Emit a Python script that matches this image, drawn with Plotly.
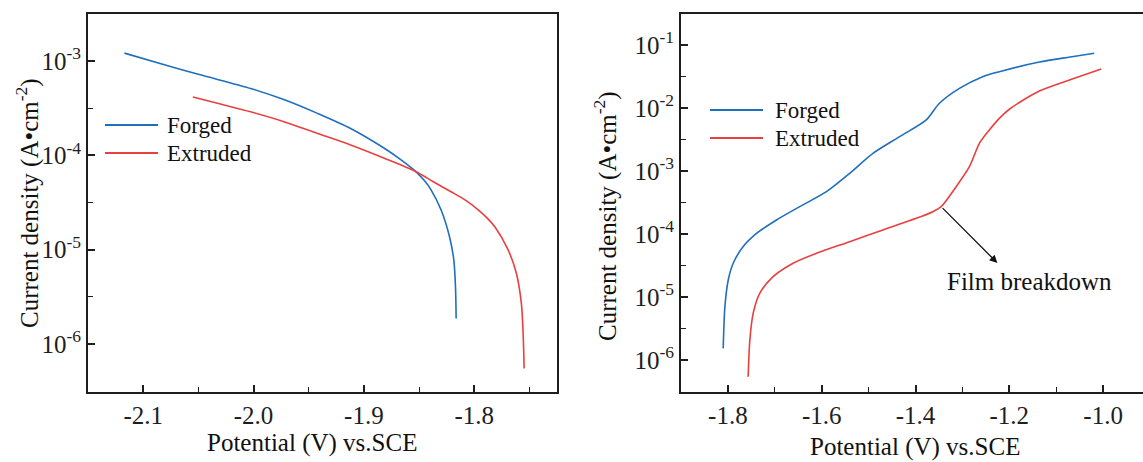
import math
import plotly.graph_objects as go

# ---------------- data ----------------
# Left panel: cathodic polarisation
left_forged_E = [-2.117, -2.08, -2.05, -2.0027, -1.972, -1.942, -1.912, -1.8815, -1.866,
                 -1.8527, -1.845, -1.839, -1.830, -1.8224, -1.8185, -1.817, -1.8164]
left_forged_i = [1.216e-3, 9.12e-4, 7.24e-4, 5.13e-4, 3.89e-4, 2.79e-4, 1.93e-4, 1.19e-4, 8.91e-5,
                 6.70e-5, 5.37e-5, 4.29e-5, 2.63e-5, 1.37e-5, 7.76e-6, 4.07e-6, 1.86e-6]

left_extruded_E = [-2.055, -2.03, -2.0027, -1.9725, -1.942, -1.912, -1.8815, -1.8527, -1.837,
                   -1.821, -1.808, -1.7967, -1.788, -1.7815, -1.7694, -1.7618, -1.7573, -1.7557,
                   -1.7548]
left_extruded_i = [4.17e-4, 3.51e-4, 2.90e-4, 2.28e-4, 1.71e-4, 1.29e-4, 9.33e-5, 6.70e-5, 5.25e-5,
                   4.11e-5, 3.35e-5, 2.66e-5, 2.15e-5, 1.76e-5, 1.00e-5, 5.62e-6, 2.69e-6, 1.30e-6,
                   5.50e-7]

# Right panel: anodic polarisation
right_forged_E = [-1.810, -1.8064, -1.7993, -1.7887, -1.7674, -1.739, -1.6964, -1.6468, -1.59,
                  -1.5404, -1.4908, -1.434, -1.3772, -1.349, -1.3064, -1.2568, -1.2213, -1.136,
                  -1.07, -1.019]
right_forged_i = [1.53e-6, 7.01e-6, 1.86e-5, 3.43e-5, 6.31e-5, 1.02e-4, 1.67e-4, 2.72e-4, 4.70e-4,
                  9.18e-4, 1.91e-3, 3.51e-3, 6.46e-3, 1.19e-2, 2.05e-2, 3.14e-2, 3.77e-2, 5.37e-2,
                  6.46e-2, 7.41e-2]

right_extruded_E = [-1.7568, -1.7532, -1.7461, -1.7319, -1.7036, -1.661, -1.6113, -1.5404, -1.4696,
                    -1.3985, -1.3632, -1.3454, -1.3134, -1.2851, -1.2638, -1.2426, -1.2213, -1.2,
                    -1.136, -1.066, -1.004]
right_extruded_i = [5.43e-7, 2.07e-6, 5.51e-6, 1.15e-5, 2.10e-5, 3.43e-5, 4.93e-5, 7.55e-5, 1.16e-4,
                    1.77e-4, 2.26e-4, 2.72e-4, 5.64e-4, 1.17e-3, 2.75e-3, 4.48e-3, 6.85e-3, 9.55e-3,
                    1.86e-2, 2.88e-2, 4.17e-2]
breakdown_index = 11          # point of film breakdown on the extruded anodic curve
breakdown_label = "Film breakdown"
breakdown_arrow_head = (-1.2255, 3.47e-5)

series_names = ["Forged", "Extruded"]
left_xticks = [-2.1, -2.0, -1.9, -1.8]
left_xminor = [-2.05, -1.95, -1.85, -1.75]
left_yticks = [1e-6, 1e-5, 1e-4, 1e-3]
right_xticks = [-1.8, -1.6, -1.4, -1.2, -1.0]
right_xminor = [-1.7, -1.5, -1.3, -1.1]
right_yticks = [1e-6, 1e-5, 1e-4, 1e-3, 1e-2, 1e-1]
x_title = "Potential (V) vs.SCE"
y_title = "Current density (A•cm<sup>-2</sup>)"

# ---------------- styling ----------------
W, H = 1143, 462
BLUE = "#1f6fbf"
RED = "#e8403f"
AX = "#1e1e1e"
FONT = "Liberation Serif, Times New Roman, serif"
FS_TICK = 25
FS_TITLE = 25
FS_LEG = 23


def px(x):
    return x / W


def py(y):
    return 1 - y / H


def sup_label(v):
    return "10<sup>%d</sup>" % round(math.log10(v))


fig = go.Figure()
spl = dict(shape="spline", smoothing=0.8, width=1.6)
fig.add_trace(go.Scatter(x=left_forged_E, y=left_forged_i, mode="lines", name=series_names[0],
                         line=dict(color=BLUE, **spl), xaxis="x", yaxis="y", showlegend=False))
fig.add_trace(go.Scatter(x=left_extruded_E, y=left_extruded_i, mode="lines", name=series_names[1],
                         line=dict(color=RED, **spl), xaxis="x", yaxis="y", showlegend=False))
fig.add_trace(go.Scatter(x=right_forged_E, y=right_forged_i, mode="lines", name=series_names[0],
                         line=dict(color=BLUE, **spl), xaxis="x2", yaxis="y2", showlegend=False))
fig.add_trace(go.Scatter(x=right_extruded_E, y=right_extruded_i, mode="lines", name=series_names[1],
                         line=dict(color=RED, **spl), xaxis="x2", yaxis="y2", showlegend=False))

tickfont = dict(family=FONT, size=FS_TICK, color=AX)
common = dict(showline=True, linecolor=AX, linewidth=1.8, ticks="inside", ticklen=7, tickwidth=1.6,
              tickcolor=AX, showgrid=False, zeroline=False, tickfont=tickfont)
minor = dict(ticks="inside", ticklen=5, tickwidth=1.4, tickcolor=AX, showgrid=False)

ydom = [py(392), py(14)]
fig.update_layout(
    width=W, height=H, margin=dict(l=0, r=0, t=0, b=0),
    paper_bgcolor="white", plot_bgcolor="white", showlegend=False,
    font=dict(family=FONT, color=AX),
    xaxis=dict(domain=[px(88), px(557)], range=[-2.15, -1.725], anchor="y", mirror=True,
               tickmode="array", tickvals=left_xticks, ticktext=["%.1f" % v for v in left_xticks],
               minor=dict(tickmode="array", tickvals=left_xminor, **minor), **common),
    yaxis=dict(domain=ydom, type="log", range=[-6.51, -2.50], anchor="x", mirror=True,
               tickmode="array", tickvals=left_yticks, ticktext=[sup_label(v) for v in left_yticks],
               minor=dict(tickmode="array", tickvals=[10 ** -5.5, 10 ** -4.5, 10 ** -3.5], **minor),
               **common),
    xaxis2=dict(domain=[px(681), 1.0], range=[-1.9, -0.915], anchor="y2", mirror=True,
                tickmode="array", tickvals=right_xticks, ticktext=["%.1f" % v for v in right_xticks],
                minor=dict(tickmode="array", tickvals=right_xminor, **minor), **common),
    yaxis2=dict(domain=ydom, type="log", range=[-6.508, -0.508], anchor="x2", mirror=False,
                tickmode="array", tickvals=right_yticks, ticktext=[sup_label(v) for v in right_yticks],
                minor=dict(tickmode="array",
                           tickvals=[10 ** -5.5, 10 ** -4.5, 10 ** -3.5, 10 ** -2.5, 10 ** -1.5], **minor),
                **common),
)

title_font = dict(family=FONT, size=FS_TITLE, color="#111")
leg_font = dict(family=FONT, size=FS_LEG, color="#111")
annotations = [
    dict(text=x_title, x=px(312), y=py(443), xref="paper", yref="paper", showarrow=False,
         font=title_font, xanchor="center", yanchor="middle"),
    dict(text=x_title, x=px(915), y=py(447), xref="paper", yref="paper", showarrow=False,
         font=title_font, xanchor="center", yanchor="middle"),
    dict(text=y_title, x=px(27), y=py(203), xref="paper", yref="paper", showarrow=False,
         font=title_font, textangle=-90, xanchor="center", yanchor="middle"),
    dict(text=y_title, x=px(606), y=py(216), xref="paper", yref="paper", showarrow=False,
         font=title_font, textangle=-90, xanchor="center", yanchor="middle"),
    # film breakdown arrow
    dict(x=breakdown_arrow_head[0], y=math.log10(breakdown_arrow_head[1]), xref="x2", yref="y2",
         ax=right_extruded_E[breakdown_index], ay=math.log10(right_extruded_i[breakdown_index]),
         axref="x2", ayref="y2", text="", showarrow=True, arrowhead=2, arrowsize=1.2,
         arrowwidth=1.3, arrowcolor="#111"),
    dict(text=breakdown_label, x=px(1029), y=py(281), xref="paper", yref="paper", showarrow=False,
         font=title_font, xanchor="center", yanchor="middle"),
]

# manual legends (line samples + labels)
shapes = []
legend_specs = [
    (105, 158, 165, [125, 153]),   # left panel
    (710, 763, 773, [110, 138]),   # right panel
]
for x0, x1, xt, ys in legend_specs:
    for name, color, yy in zip(series_names, [BLUE, RED], ys):
        shapes.append(dict(type="line", xref="paper", yref="paper", x0=px(x0), x1=px(x1),
                           y0=py(yy), y1=py(yy), line=dict(color=color, width=1.8)))
        annotations.append(dict(text=name, x=px(xt), y=py(yy), xref="paper", yref="paper",
                                showarrow=False, font=leg_font, xanchor="left", yanchor="middle"))

fig.update_layout(annotations=annotations, shapes=shapes)
fig.write_html("out.html")
